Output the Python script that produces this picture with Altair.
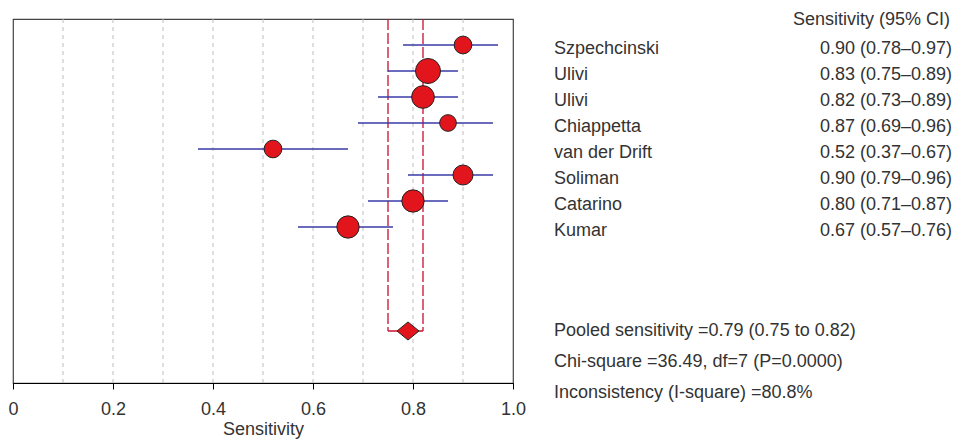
import altair as alt
import pandas as pd

# ---- data ----
studies = ["Szpechcinski", "Ulivi", "Ulivi", "Chiappetta", "van der Drift",
           "Soliman", "Catarino", "Kumar"]
sens = [0.90, 0.83, 0.82, 0.87, 0.52, 0.90, 0.80, 0.67]
ci_lo = [0.78, 0.75, 0.73, 0.69, 0.37, 0.79, 0.71, 0.57]
ci_hi = [0.97, 0.89, 0.89, 0.96, 0.67, 0.96, 0.87, 0.76]
weight = [313, 625, 515, 279, 313, 400, 497, 497]  # marker area (study weight)
rows = list(range(len(studies)))

pooled = 0.79
pooled_lo = 0.75
pooled_hi = 0.82
pooled_row = 11

grid_x = [0.1, 0.2, 0.3, 0.4, 0.5, 0.6, 0.7, 0.8, 0.9]
tick_values = [0, 0.2, 0.4, 0.6, 0.8, 1.0]
y_domain = [-1, 13]

header = "Sensitivity (95% CI)"
stats_lines = ["Pooled sensitivity =0.79 (0.75 to 0.82)",
               "Chi-square =36.49, df=7 (P=0.0000)",
               "Inconsistency (I-square) =80.8%"]

FONT = "Liberation Sans"
FS = 18
TXT = "#333333"

df = pd.DataFrame({
    "study": studies, "sens": sens, "lo": ci_lo, "hi": ci_hi,
    "w": weight, "row": rows,
    "label": [f"{s:.2f} ({l:.2f}\u2013{h:.2f})" for s, l, h in zip(sens, ci_lo, ci_hi)],
})

xs = alt.Scale(domain=[0, 1], nice=False, zero=False)
ys = alt.Scale(domain=y_domain, reverse=True, nice=False, zero=False)

x_axis = alt.Axis(
    values=tick_values, grid=False, labelFlush=False,
    labelExpr="datum.value == 0 ? '0' : format(datum.value, '.1f')",
    tickSize=6, tickColor="#000000", domainColor="#000000", domainWidth=1.2,
    labelFont=FONT, labelFontSize=FS, labelColor=TXT, labelPadding=11,
    title="Sensitivity", titleFont=FONT, titleFontSize=FS, titleFontWeight="normal",
    titleColor=TXT, titlePadding=2,
)

grid = alt.Chart(pd.DataFrame({"gx": grid_x})).mark_rule(
    color="#bdbdbd", strokeDash=[4, 4], strokeWidth=1
).encode(x=alt.X("gx:Q", scale=xs, axis=x_axis))

bracket_df = pd.DataFrame({"bx": [pooled_lo, pooled_hi],
                           "top": [y_domain[0]] * 2, "bot": [pooled_row] * 2})
bracket_v = alt.Chart(bracket_df).mark_rule(
    color="#c8102e", strokeDash=[11, 3], strokeWidth=1.3
).encode(x=alt.X("bx:Q", scale=xs), y=alt.Y("top:Q", scale=ys, axis=None), y2="bot:Q")

pool_df = pd.DataFrame({"p": [pooled], "plo": [pooled_lo], "phi": [pooled_hi],
                        "prow": [pooled_row]})
bracket_h = alt.Chart(pool_df).mark_rule(color="#c8102e", strokeWidth=1.3).encode(
    x=alt.X("plo:Q", scale=xs), x2="phi:Q", y=alt.Y("prow:Q", scale=ys, axis=None))

ci = alt.Chart(df).mark_rule(color="#3a3aa8", strokeWidth=1.4).encode(
    x=alt.X("lo:Q", scale=xs), x2="hi:Q", y=alt.Y("row:Q", scale=ys, axis=None))

pts = alt.Chart(df).mark_point(
    shape="circle", filled=True, fill="#e3151c", stroke="#222222", strokeWidth=1,
    opacity=1, fillOpacity=1,
).encode(x=alt.X("sens:Q", scale=xs), y=alt.Y("row:Q", scale=ys, axis=None),
         size=alt.Size("w:Q", scale=None, legend=None))

diamond = alt.Chart(pool_df).mark_point(
    shape="M-1,0L0,-0.82L1,0L0,0.82Z", filled=True, fill="#e3151c",
    stroke="#222222", strokeWidth=1, size=484, opacity=1, fillOpacity=1,
).encode(x=alt.X("p:Q", scale=xs), y=alt.Y("prow:Q", scale=ys, axis=None))

names = alt.Chart(df).mark_text(
    align="left", baseline="middle", font=FONT, fontSize=FS, color=TXT, dy=4
).encode(x=alt.value(541), y=alt.Y("row:Q", scale=ys, axis=None), text="study:N")

vals = alt.Chart(df).mark_text(
    align="right", baseline="middle", font=FONT, fontSize=FS, color=TXT, dy=4
).encode(x=alt.value(939), y=alt.Y("row:Q", scale=ys, axis=None), text="label:N")

head = alt.Chart(pd.DataFrame({"t": [header]})).mark_text(
    align="right", baseline="middle", font=FONT, fontSize=FS, color=TXT
).encode(x=alt.value(937), y=alt.value(1), text="t:N")

stats_layers = []
for i, line in enumerate(stats_lines):
    stats_layers.append(
        alt.Chart(pd.DataFrame({"t": [line]})).mark_text(
            align="left", baseline="middle", font=FONT, fontSize=FS, color=TXT
        ).encode(x=alt.value(541), y=alt.value(312 + 31 * i), text="t:N")
    )

chart = alt.layer(grid, bracket_v, bracket_h, ci, pts, diamond, names, vals, head,
                  *stats_layers).properties(
    width=500, height=364,
    autosize=alt.AutoSizeParams(type="none"),
    padding={"left": 5, "top": 11, "right": 453, "bottom": 58},
    background="white",
).configure_view(stroke="#444444", strokeWidth=1.2)

chart.save("out.html", embed_options={"renderer": "svg", "actions": False})
